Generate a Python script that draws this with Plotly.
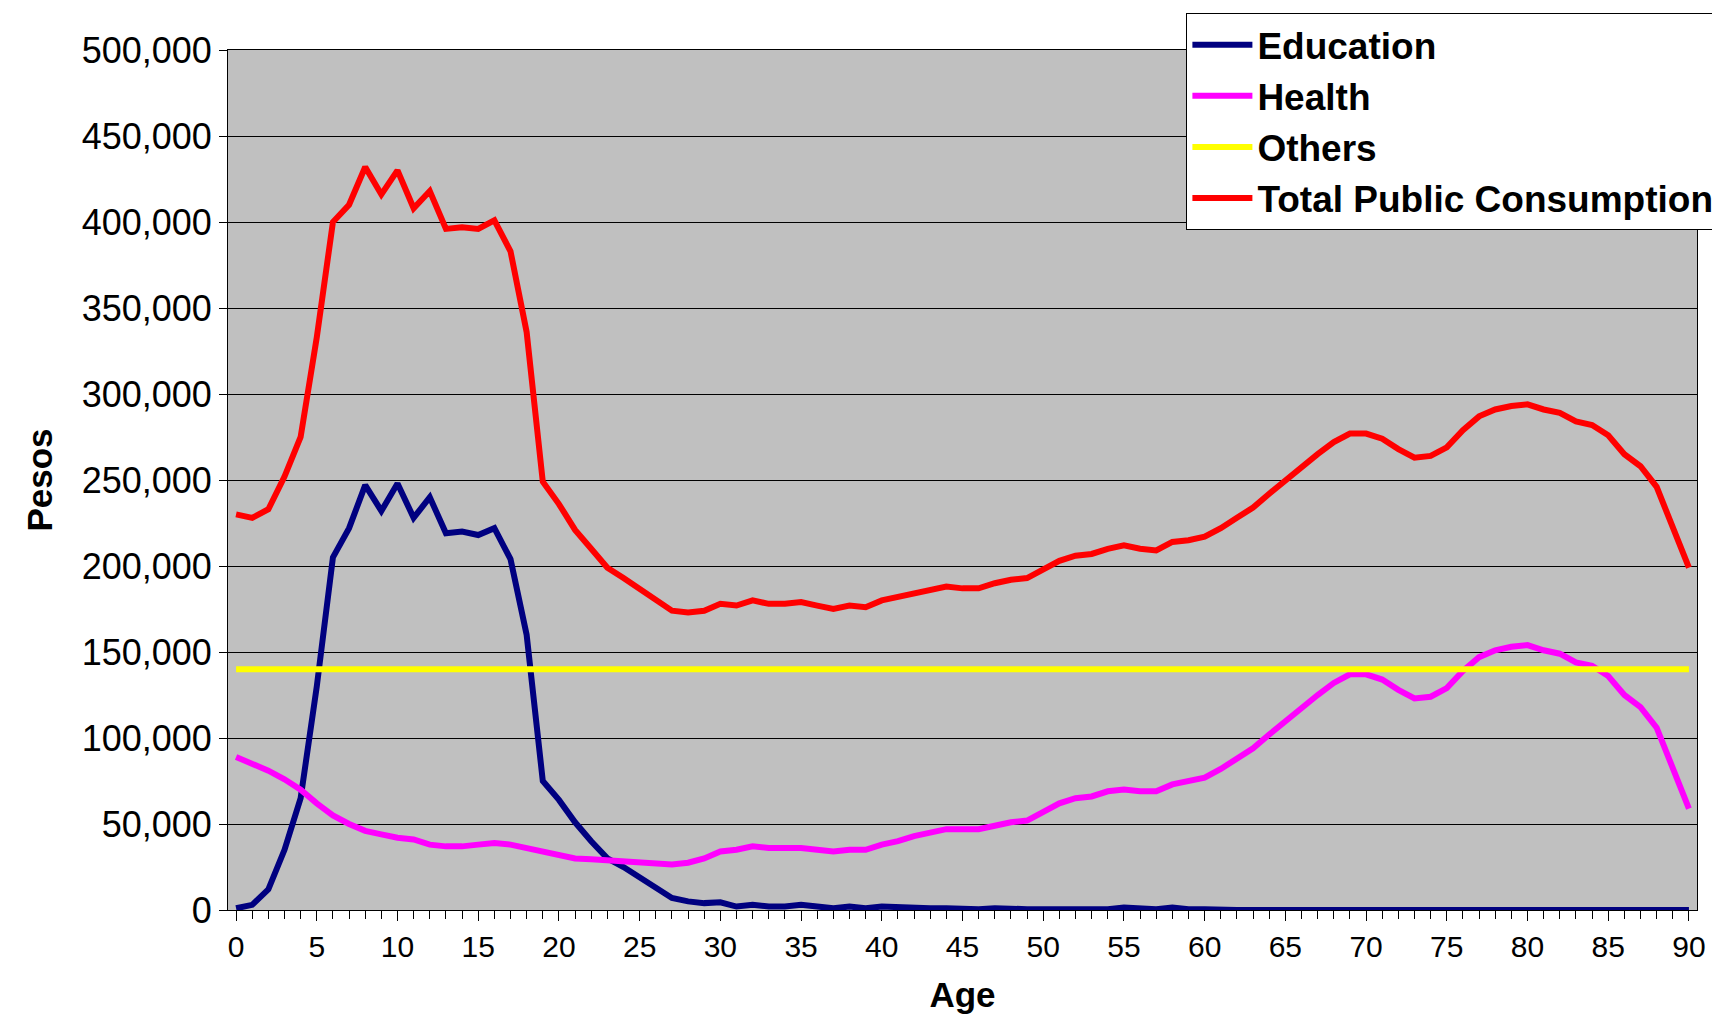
import plotly.graph_objects as go

ages = list(range(0, 91))

education = [1, 3, 12, 35, 65, 130, 205, 222, 247, 232, 248, 228, 240, 219, 220, 218, 222, 204, 160, 75,
             64, 51, 40, 30, 25, 19, 13, 7, 5, 4, 4.5, 2, 3, 2, 2, 3, 2, 1, 2, 1,
             2, 1.5, 1, 1, 1, 0.5, 0.5, 1, 0.5, 0.5, 0.5, 0.5, 0.5, 0.5, 0.5, 1.5, 1, 0.5, 1.5, 0.5,
             0.5, 0, 0, 0, 0, 0, 0, 0, 0, 0.5, 0, 0, 0, 0, 0, 0, 0.5, 0, 0, 0,
             0, 0, 0, 0, 0, 0, 0, 0, 0, 0, 0]
health = [89, 85, 81, 76, 70, 62, 55, 50, 46, 44, 42, 41, 38, 37, 37, 38, 39, 38, 36, 34,
          32, 30, 29.5, 29, 28.5, 28, 27, 26.5, 27.5, 30, 34, 35, 37, 36, 36, 36, 35, 34, 35, 35,
          38, 40, 43, 45, 47, 47, 47, 49, 51, 52, 57, 62, 65, 66, 69, 70, 69, 69, 73, 75,
          77, 82, 88, 94, 102, 110, 118, 125, 132, 137, 137, 134, 128, 123, 124, 129, 139, 147, 151, 153,
          154, 151, 149, 144, 142, 136, 125, 118, 106, 82, 59]
others = [140] * 91
total = [230, 228, 233, 252, 275, 333, 400, 410, 432, 416, 430, 408, 418, 396, 397, 396, 401, 383, 336, 249,
         236, 221, 210, 199, 193, 187, 180, 174, 173, 174, 178, 177, 180, 178, 178, 179, 177, 175, 177, 176,
         180, 182, 184, 186, 188, 187, 187, 190, 192, 193, 198, 203, 206, 207, 210, 212, 210, 209, 214, 215,
         217, 222, 228, 234, 242, 250, 258, 265, 272, 277, 277, 274, 268, 263, 264, 269, 279, 287, 291, 293,
         294, 291, 289, 284, 282, 276, 265, 258, 246, 222, 199]

series = [("Education", education, "#000080"), ("Health", health, "#FF00FF"),
          ("Others", others, "#FFFF00"), ("Total Public Consumption", total, "#FF0000")]

fig = go.Figure()
for name, vals, col in series:
    fig.add_trace(go.Scatter(x=ages, y=[v * 1000 for v in vals], mode="lines", name=name,
                             line=dict(color=col, width=6)))

font = dict(family="Liberation Sans, Arial", size=36, color="black")
fig.update_layout(
    width=1720, height=1034, paper_bgcolor="white", plot_bgcolor="#C0C0C0",
    margin=dict(l=220, r=31, t=42, b=132, autoexpand=False), font=font,
    legend=dict(xref="container", yref="container", x=0.995, y=0.995, xanchor="right", yanchor="top",
                bgcolor="white", bordercolor="black", borderwidth=1,
                font=dict(family="Liberation Sans, Arial", size=37, color="black", weight="bold"),
                itemwidth=60, tracegroupgap=0),
    xaxis=dict(range=[-0.5, 90.5], tickvals=list(range(0, 91, 5)), showgrid=False, zeroline=False,
               ticks="outside", ticklen=10, tickcolor="black", showline=True, linecolor="black", mirror=True,
               tickfont=dict(size=30),
               minor=dict(dtick=1, ticks="outside", ticklen=8, tickcolor="black"),
               title=dict(text="<b>Age</b>", font=dict(size=35), standoff=20)),
    yaxis=dict(range=[0, 500000], dtick=50000, tickformat=",d", showgrid=True, gridcolor="black", gridwidth=1,
               zeroline=False, ticks="outside", ticklen=8, tickcolor="black", showline=True,
               linecolor="black", mirror=True,
               title=dict(text="<b>Pesos</b>", font=dict(size=35), standoff=18)),
)
fig.write_html("out.html")
